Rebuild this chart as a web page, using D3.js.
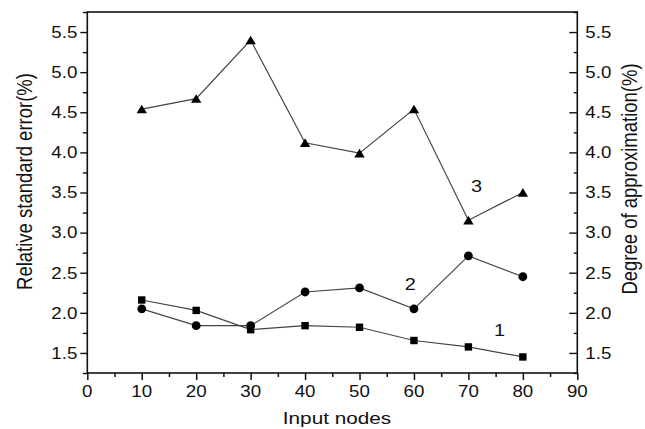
<!DOCTYPE html>
<html>
<head>
<meta charset="utf-8">
<script src="https://cdn.jsdelivr.net/npm/d3@7"></script>
<style>
  body { margin: 0; background: #fff; }
  text { font-family: "Liberation Sans", Arial, Helvetica, sans-serif; fill: #111; }
</style>
</head>
<body>
<svg id="chart" width="645" height="429"></svg>
<script>
// ---- data ----
const inputNodes = [10, 20, 30, 40, 50, 60, 70, 80];
const series1 = [2.16, 2.03, 1.79, 1.84, 1.82, 1.655, 1.575, 1.45]; // squares
const series2 = [2.05, 1.84, 1.84, 2.26, 2.31, 2.05, 2.71, 2.45];   // circles
const series3 = [4.54, 4.67, 5.40, 4.12, 3.99, 4.54, 3.155, 3.50];  // triangles
const seriesLabels = ["1", "2", "3"];
const labelAnchors = [[75.7, 1.78], [59.3, 2.36], [71.5, 3.58]];
const xTicks = [0, 10, 20, 30, 40, 50, 60, 70, 80, 90];
const yTicks = [1.5, 2.0, 2.5, 3.0, 3.5, 4.0, 4.5, 5.0, 5.5];
const xTitle = "Input nodes";
const yLeftTitle = "Relative standard error(%)";
const yRightTitle = "Degree of approximation(%)";

// ---- layout ----
const L = 87.3, R = 577.3, T = 12, B = 373;
const SX = 1.17; // horizontal stretch of glyphs in the reference
const svg = d3.select("#chart");

const x = d3.scaleLinear().domain([0, 90]).range([L, R]);
const y = d3.scaleLinear().domain([1.25, 5.75]).range([B, T]);

const minorX = d3.range(0, 91, 5).filter(v => v % 10 !== 0);
const minorY = d3.range(1.25, 5.76, 0.25).filter(v => Math.abs(v * 2 - Math.round(v * 2)) > 0.01);

// frame
svg.append("rect").attr("x", L).attr("y", T).attr("width", R - L).attr("height", B - T)
  .attr("fill", "none").attr("stroke", "#111").attr("stroke-width", 1.6);

// bottom axis
const gx = svg.append("g").attr("transform", `translate(0,${B})`);
gx.call(d3.axisBottom(x).tickValues(xTicks).tickSize(7).tickFormat(""));
gx.append("g").call(d3.axisBottom(x).tickValues(minorX).tickSize(4).tickFormat(""));
gx.selectAll(".domain").remove();
gx.selectAll("line").attr("stroke", "#111").attr("stroke-width", 1.5);
xTicks.forEach(v => {
  svg.append("text").attr("transform", `translate(${x(v)},${B + 23.5}) scale(${SX},1)`)
    .attr("text-anchor", "middle").attr("font-size", 16).text(v);
});

// left axis
const gl = svg.append("g").attr("transform", `translate(${L},0)`);
gl.call(d3.axisLeft(y).tickValues(yTicks).tickSize(7).tickFormat(""));
gl.append("g").call(d3.axisLeft(y).tickValues(minorY).tickSize(4.5).tickFormat(""));
gl.selectAll(".domain").remove();
gl.selectAll("line").attr("stroke", "#111").attr("stroke-width", 1.4);
yTicks.forEach(v => {
  svg.append("text").attr("transform", `translate(${L - 10},${y(v) + 5.8}) scale(${SX},1)`)
    .attr("text-anchor", "end").attr("font-size", 16).text(d3.format(".1f")(v));
});

// right axis (ticks inward)
const gr = svg.append("g").attr("transform", `translate(${R},0)`);
gr.call(d3.axisLeft(y).tickValues(yTicks).tickSize(8).tickFormat(""));
gr.append("g").call(d3.axisLeft(y).tickValues(minorY).tickSize(3.5).tickFormat(""));
gr.selectAll(".domain").remove();
gr.selectAll("line").attr("stroke", "#111").attr("stroke-width", 1.4);
yTicks.forEach(v => {
  svg.append("text").attr("transform", `translate(${R + 8},${y(v) + 5.8}) scale(${SX},1)`)
    .attr("text-anchor", "start").attr("font-size", 16).text(d3.format(".1f")(v));
});

// titles
svg.append("text").attr("transform", `translate(337,424.3) scale(1.22,1)`)
  .attr("text-anchor", "middle").attr("font-size", 17).text(xTitle);
svg.append("text").attr("transform", `translate(31.7,181.5) scale(1.2,1) rotate(-90)`)
  .attr("text-anchor", "middle").attr("font-size", 18.5).text(yLeftTitle);
svg.append("text").attr("transform", `translate(636.5,179) scale(1.2,1) rotate(-90)`)
  .attr("text-anchor", "middle").attr("font-size", 18.5).text(yRightTitle);

// lines
const line = d3.line().x((d, i) => x(inputNodes[i])).y(d => y(d));
[series1, series2, series3].forEach(s => {
  svg.append("path").datum(s).attr("d", line).attr("fill", "none")
    .attr("stroke", "#444").attr("stroke-width", 1.2);
});

// markers
svg.append("g").selectAll("rect").data(series1).join("rect")
  .attr("x", (d, i) => x(inputNodes[i]) - 3.7).attr("y", d => y(d) - 3.7)
  .attr("width", 7.4).attr("height", 7.4).attr("fill", "#000");
svg.append("g").selectAll("circle").data(series2).join("circle")
  .attr("cx", (d, i) => x(inputNodes[i])).attr("cy", d => y(d)).attr("r", 4.4).attr("fill", "#000");
svg.append("g").selectAll("path").data(series3).join("path")
  .attr("transform", (d, i) => `translate(${x(inputNodes[i])},${y(d)})`)
  .attr("d", "M0,-4.4L5.2,4.2L-5.2,4.2Z").attr("fill", "#000");

// series number labels
seriesLabels.forEach((t, i) => {
  svg.append("text").attr("transform", `translate(${x(labelAnchors[i][0])},${y(labelAnchors[i][1]) + 6}) scale(${SX},1)`)
    .attr("text-anchor", "middle").attr("font-size", 17).text(t);
});
</script>
</body>
</html>
